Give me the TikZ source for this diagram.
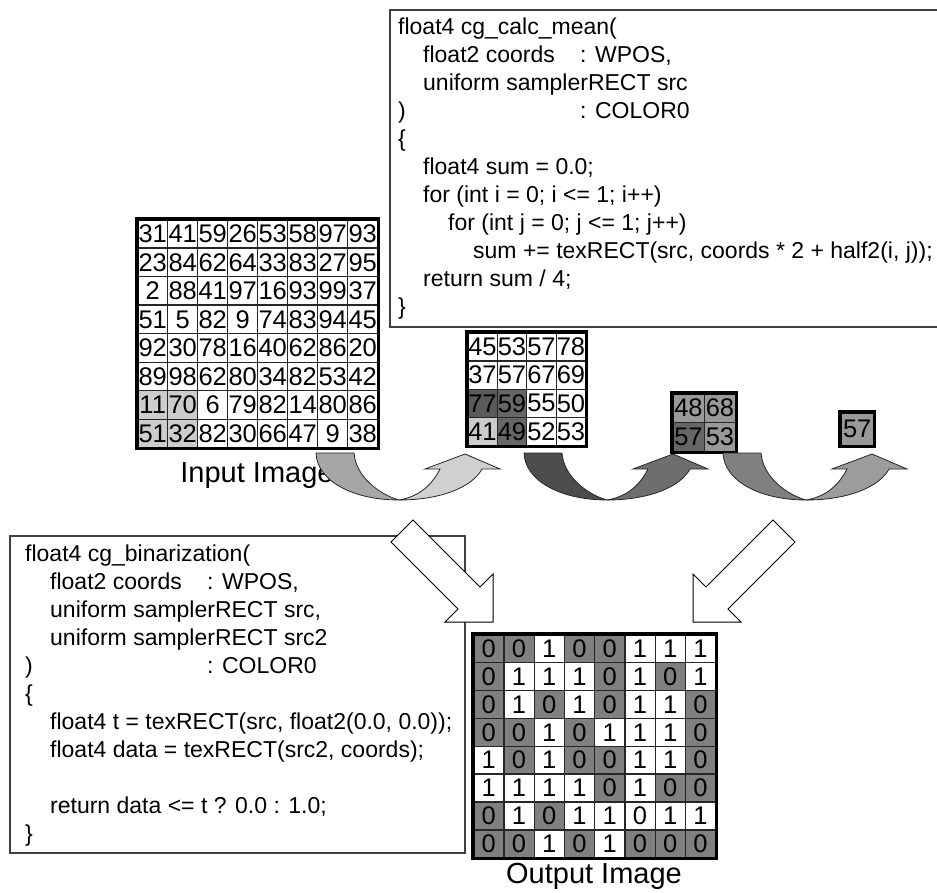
\documentclass[tikz,border=0pt]{standalone}
\usepackage{fontspec}
\setmainfont{Liberation Sans}
\usetikzlibrary{positioning}

\definecolor{cellLt}{HTML}{CCCCCC}
\definecolor{cellDk}{HTML}{5A5A5A}
\definecolor{cellMd}{HTML}{666666}
\definecolor{cellGy}{HTML}{999999}
\definecolor{binGy}{HTML}{808080}
\definecolor{arrAdk}{HTML}{A6A6A6}
\definecolor{arrAlt}{HTML}{D0D0D0}
\definecolor{arrBdk}{HTML}{4D4D4D}
\definecolor{arrBlt}{HTML}{6E6E6E}
\definecolor{arrCdk}{HTML}{808080}
\definecolor{arrClt}{HTML}{9C9C9C}

\newcommand\codesize{\fontsize{23}{28}\selectfont}
\newcommand\tb{\hspace*{25pt}}

\begin{document}
\begin{tikzpicture}[x=1pt, y=-1pt,
        cell/.style={draw=black!85, line width=1.4pt, anchor=north west,
        inner sep=0pt, font=\fontsize{25.5}{25.5}\selectfont},
        outer/.style={draw=black, line width=3.8pt},
        code/.style={anchor=north west, inner sep=0pt, align=left, font=\codesize},
        codebox/.style={draw=black!75, line width=1.3pt},
        lbl/.style={inner sep=0pt, font=\fontsize{29}{29}\selectfont},
        uarrow/.style={draw=black!85, line width=0.8pt},
        hollow/.style={draw=black, fill=white, line width=1pt, line join=miter}
    ]
\clip (0,0) rectangle (937,893);

% code of the mean pass
\draw[codebox] (390,10) rectangle (960,327);
\node[code] (meancode) at (398,18) {%
float4 cg\_calc\_mean(\\
\tb\makebox[157pt][l]{float2 coords}: WPOS,\\
\tb uniform samplerRECT src\\
\makebox[182pt][l]{)}: COLOR0\\
\{\\
\tb float4 sum = 0.0;\\
\tb for (int i = 0; i <= 1; i++)\\
\tb\tb for (int j = 0; j <= 1; j++)\\
\tb\tb\tb sum += texRECT(src, coords * 2 + half2(i, j));\\
\tb return sum / 4;\\
\}};

% input image 8x8
\foreach \row [count=\r] in {{31,41,59,26,53,58,97,93},{23,84,62,64,33,83,27,95},
        {2,88,41,97,16,93,99,37},{51,5,82,9,74,83,94,45},{92,30,78,16,40,62,86,20},
        {89,98,62,80,34,82,53,42},{11,70,6,79,82,14,80,86},{51,32,82,30,66,47,9,38}} {
    \foreach \v [count=\c] in \row {
        \def\cf{white}
        \ifnum\r>6 \ifnum\c<3 \def\cf{cellLt}\fi\fi
        \node[cell, fill=\cf, minimum width=30pt, minimum height=28.5pt]
            (in-\r-\c) at ({137+30*(\c-1)},{219+28.5*(\r-1)}) {\v};
    }
}
\draw[outer] (in-1-1.north west) rectangle (in-8-8.south east);
\node[lbl] (inlbl) at (257,476) {Input Image};

% 4x4 means
\foreach \row [count=\r] in {{45/white,53/white,57/white,78/white},
        {37/white,57/white,67/white,69/white},{77/cellDk,59/cellMd,55/white,50/white},
        {41/cellLt,49/cellMd,52/white,53/white}} {
    \foreach \v/\f [count=\c] in \row {
        \node[cell, fill=\f, minimum width=29.5pt, minimum height=28.25pt]
            (qa-\r-\c) at ({467+29.5*(\c-1)},{332+28.25*(\r-1)}) {\v};
    }
}
\draw[outer] (qa-1-1.north west) rectangle (qa-4-4.south east);

% 2x2 means
\foreach \row [count=\r] in {{48/cellGy,68/cellGy},{57/cellMd,53/cellGy}} {
    \foreach \v/\f [count=\c] in \row {
        \node[cell, fill=\f, minimum width=31.5pt, minimum height=29pt]
            (qb-\r-\c) at ({672+31.5*(\c-1)},{393+29*(\r-1)}) {\v};
    }
}
\draw[outer] (qb-1-1.north west) rectangle (qb-2-2.south east);

% 1x1 mean
\node[cell, fill=cellGy, minimum width=33pt, minimum height=33pt] (qc) at (840,412) {57};
\draw[outer] (qc.north west) rectangle (qc.south east);

% curved reduction arrows
\foreach \dx/\cdk/\clt in {-407/arrAdk/arrAlt, -199/arrBdk/arrBlt, 0/arrCdk/arrClt} {
    \begin{scope}[xshift=\dx]
    \filldraw[uarrow, fill=\cdk] (723,453) .. controls (724,481) and (760,500) .. (806,500)
        .. controls (788,495) and (763,478) .. (761,453) -- cycle;
    \filldraw[uarrow, fill=\clt] (806,500) .. controls (850,500) and (880,486) .. (889,469)
        -- (907,469) -- (872,454) -- (832,469) -- (847,469)
        .. controls (838,487) and (824,497) .. (806,500) -- cycle;
    \end{scope}
}

% code of the binarization pass
\draw[codebox] (10,536) rectangle (465,853);
\node[code] (bincode) at (25,545) {%
float4 cg\_binarization(\\
\tb\makebox[157pt][l]{float2 coords}: WPOS,\\
\tb uniform samplerRECT src,\\
\tb uniform samplerRECT src2\\
\makebox[182pt][l]{)}: COLOR0\\
\{\\
\tb float4 t = texRECT(src, float2(0.0, 0.0));\\
\tb float4 data = texRECT(src2, coords);\\
\mbox{}\\
\tb return data <= t ? 0.0 : 1.0;\\
\}};

% output image 8x8
\foreach \row [count=\r] in {{0,0,1,0,0,1,1,1},{0,1,1,1,0,1,0,1},{0,1,0,1,0,1,1,0},
        {0,0,1,0,1,1,1,0},{1,0,1,0,0,1,1,0},{1,1,1,1,0,1,0,0},
        {0,1,0,1,1,0,1,1},{0,0,1,0,1,0,0,0}} {
    \foreach \v [count=\c] in \row {
        \def\cf{white}
        \ifnum\v=0 \def\cf{binGy}\fi
        \ifnum\r=7 \ifnum\c=6 \def\cf{white}\fi\fi
        \node[cell, fill=\cf, minimum width=30.25pt, minimum height=27.875pt]
            (out-\r-\c) at ({473+30.25*(\c-1)},{634+27.875*(\r-1)}) {\v};
    }
}
\draw[outer] (out-1-1.north west) rectangle (out-8-8.south east);
\node[lbl] (outlbl) at (594,876) {Output Image};

% hollow arrows into the output
\draw[hollow] (413,520) -- (480,587) -- (493,574) -- (493,622) -- (445,622)
    -- (458,609) -- (391,542) -- cycle;
\draw[hollow] (773,520) -- (706,587) -- (693,574) -- (693,622) -- (741,622)
    -- (728,609) -- (795,542) -- cycle;
\end{tikzpicture}
\end{document}
